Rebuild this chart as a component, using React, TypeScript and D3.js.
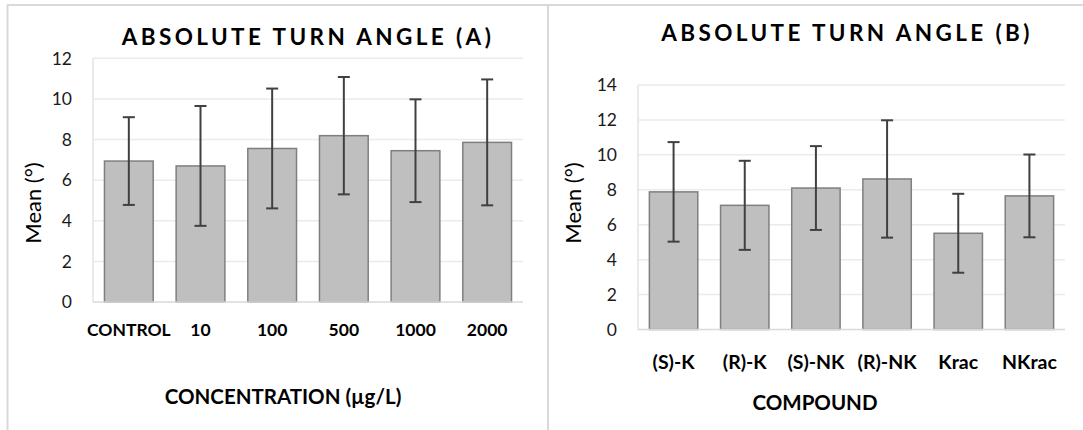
import React from "react";
import * as d3 from "d3";

// Panel A: concentration series
const concentrationLabels = ["CONTROL", "10", "100", "500", "1000", "2000"];
const concentrationMeans = [6.94, 6.7, 7.56, 8.19, 7.45, 7.86];
const concentrationErrors = [2.16, 2.95, 2.95, 2.89, 2.53, 3.1];
const concentrationTicks = [0, 2, 4, 6, 8, 10, 12];

// Panel B: compound series
const compoundLabels = ["(S)-K", "(R)-K", "(S)-NK", "(R)-NK", "Krac", "NKrac"];
const compoundMeans = [7.88, 7.11, 8.1, 8.62, 5.51, 7.65];
const compoundErrors = [2.85, 2.55, 2.4, 3.36, 2.26, 2.37];
const compoundTicks = [0, 2, 4, 6, 8, 10, 12, 14];

const FONT = "Lato, 'Open Sans', sans-serif";

type PanelProps = {
  title: string;
  titleX: number;
  titleY: number;
  xTitle: string;
  xTitleX: number;
  xTitleY: number;
  labels: string[];
  means: number[];
  errors: number[];
  ticks: number[];
  left: number;
  right: number;
  top: number;
  bottom: number;
  labelY: number;
  labelSize: number;
  yTitleX: number;
};

function Panel(p: PanelProps) {
  const yMax = p.ticks[p.ticks.length - 1];
  const x = d3
    .scaleBand<string>()
    .domain(p.labels)
    .range([p.left, p.right])
    .paddingInner(0.32)
    .paddingOuter(0.16);
  const y = d3.scaleLinear().domain([0, yMax]).range([p.bottom, p.top]);
  const bw = x.bandwidth();
  const cap = 6;

  return (
    <g>
      {/* gridlines */}
      {p.ticks.slice(1).map((t) => (
        <line
          key={"g" + t}
          x1={p.left}
          x2={p.right}
          y1={y(t)}
          y2={y(t)}
          stroke="#ebebeb"
          strokeWidth={1.5}
        />
      ))}
      {/* value axis line */}
      <line x1={p.left} x2={p.left} y1={p.top} y2={p.bottom} stroke="#e3e3e3" strokeWidth={1.5} />
      {/* tick labels */}
      {p.ticks.map((t) => (
        <text
          key={"t" + t}
          x={p.left - 21}
          y={y(t)}
          dy="0.36em"
          textAnchor="end"
          fontFamily={FONT}
          fontSize={17.5}
          fill="#1a1a1a"
        >
          {t}
        </text>
      ))}
      {/* bars */}
      {p.labels.map((c, i) => (
        <rect
          key={"b" + c}
          x={x(c)!}
          y={y(p.means[i])}
          width={bw}
          height={y(0) - y(p.means[i])}
          fill="#bfbfbf"
          stroke="#7f7f7f"
          strokeWidth={1.5}
        />
      ))}
      {/* category axis line */}
      <line x1={p.left} x2={p.right} y1={p.bottom} y2={p.bottom} stroke="#d9d9d9" strokeWidth={1.5} />
      {/* error bars */}
      {p.labels.map((c, i) => {
        const cx = x(c)! + bw / 2;
        const hi = y(p.means[i] + p.errors[i]);
        const lo = y(p.means[i] - p.errors[i]);
        return (
          <g key={"e" + c} stroke="#404040" strokeWidth={2}>
            <line x1={cx} x2={cx} y1={hi} y2={lo} />
            <line x1={cx - cap} x2={cx + cap} y1={hi} y2={hi} />
            <line x1={cx - cap} x2={cx + cap} y1={lo} y2={lo} />
          </g>
        );
      })}
      {/* category labels */}
      {p.labels.map((c) => (
        <text
          key={"l" + c}
          x={x(c)! + bw / 2}
          y={p.labelY}
          dy="0.36em"
          textAnchor="middle"
          fontFamily={FONT}
          fontWeight="bold"
          fontSize={p.labelSize}
          fill="#000"
        >
          {c}
        </text>
      ))}
      {/* chart title */}
      <text
        x={p.titleX}
        y={p.titleY}
        dy="0.36em"
        textAnchor="middle"
        fontFamily={FONT}
        fontWeight="bold"
        fontSize={22.5}
        letterSpacing={3.4}
        fill="#000"
      >
        {p.title}
      </text>
      {/* axis titles */}
      <text
        x={p.xTitleX}
        y={p.xTitleY}
        dy="0.36em"
        textAnchor="middle"
        fontFamily={FONT}
        fontWeight="bold"
        fontSize={20.5}
        fill="#000"
      >
        {p.xTitle}
      </text>
      <text
        transform={`translate(${p.yTitleX},203) rotate(-90)`}
        dy="0.36em"
        textAnchor="middle"
        fontFamily={FONT}
        fontSize={22}
        fill="#000"
      >
        Mean (°)
      </text>
    </g>
  );
}

export default function App() {
  return (
    <svg
      width={1083}
      height={430}
      style={{ position: "absolute", left: 0, top: 0, background: "#fff" }}
    >
      <rect width={1083} height={430} fill="#fff" />
      {/* panel frames */}
      <line x1={7} x2={1083} y1={5} y2={5} stroke="#d9d9d9" strokeWidth={2} />
      <line x1={7.5} x2={7.5} y1={5} y2={430} stroke="#d9d9d9" strokeWidth={2} />
      <line x1={548} x2={548} y1={5} y2={430} stroke="#d9d9d9" strokeWidth={2} />
      <Panel
        title="ABSOLUTE TURN ANGLE (A)"
        titleX={308}
        titleY={37}
        xTitle="CONCENTRATION (µg/L)"
        xTitleX={283}
        xTitleY={397}
        labels={concentrationLabels}
        means={concentrationMeans}
        errors={concentrationErrors}
        ticks={concentrationTicks}
        left={93}
        right={523}
        top={58.3}
        bottom={302}
        labelY={330}
        labelSize={17.5}
        yTitleX={33}
      />
      <Panel
        title="ABSOLUTE TURN ANGLE (B)"
        titleX={847}
        titleY={33}
        xTitle="COMPOUND"
        xTitleX={815}
        xTitleY={403}
        labels={compoundLabels}
        means={compoundMeans}
        errors={compoundErrors}
        ticks={compoundTicks}
        left={638}
        right={1065}
        top={85}
        bottom={329.5}
        labelY={362}
        labelSize={19.5}
        yTitleX={573}
      />
    </svg>
  );
}
